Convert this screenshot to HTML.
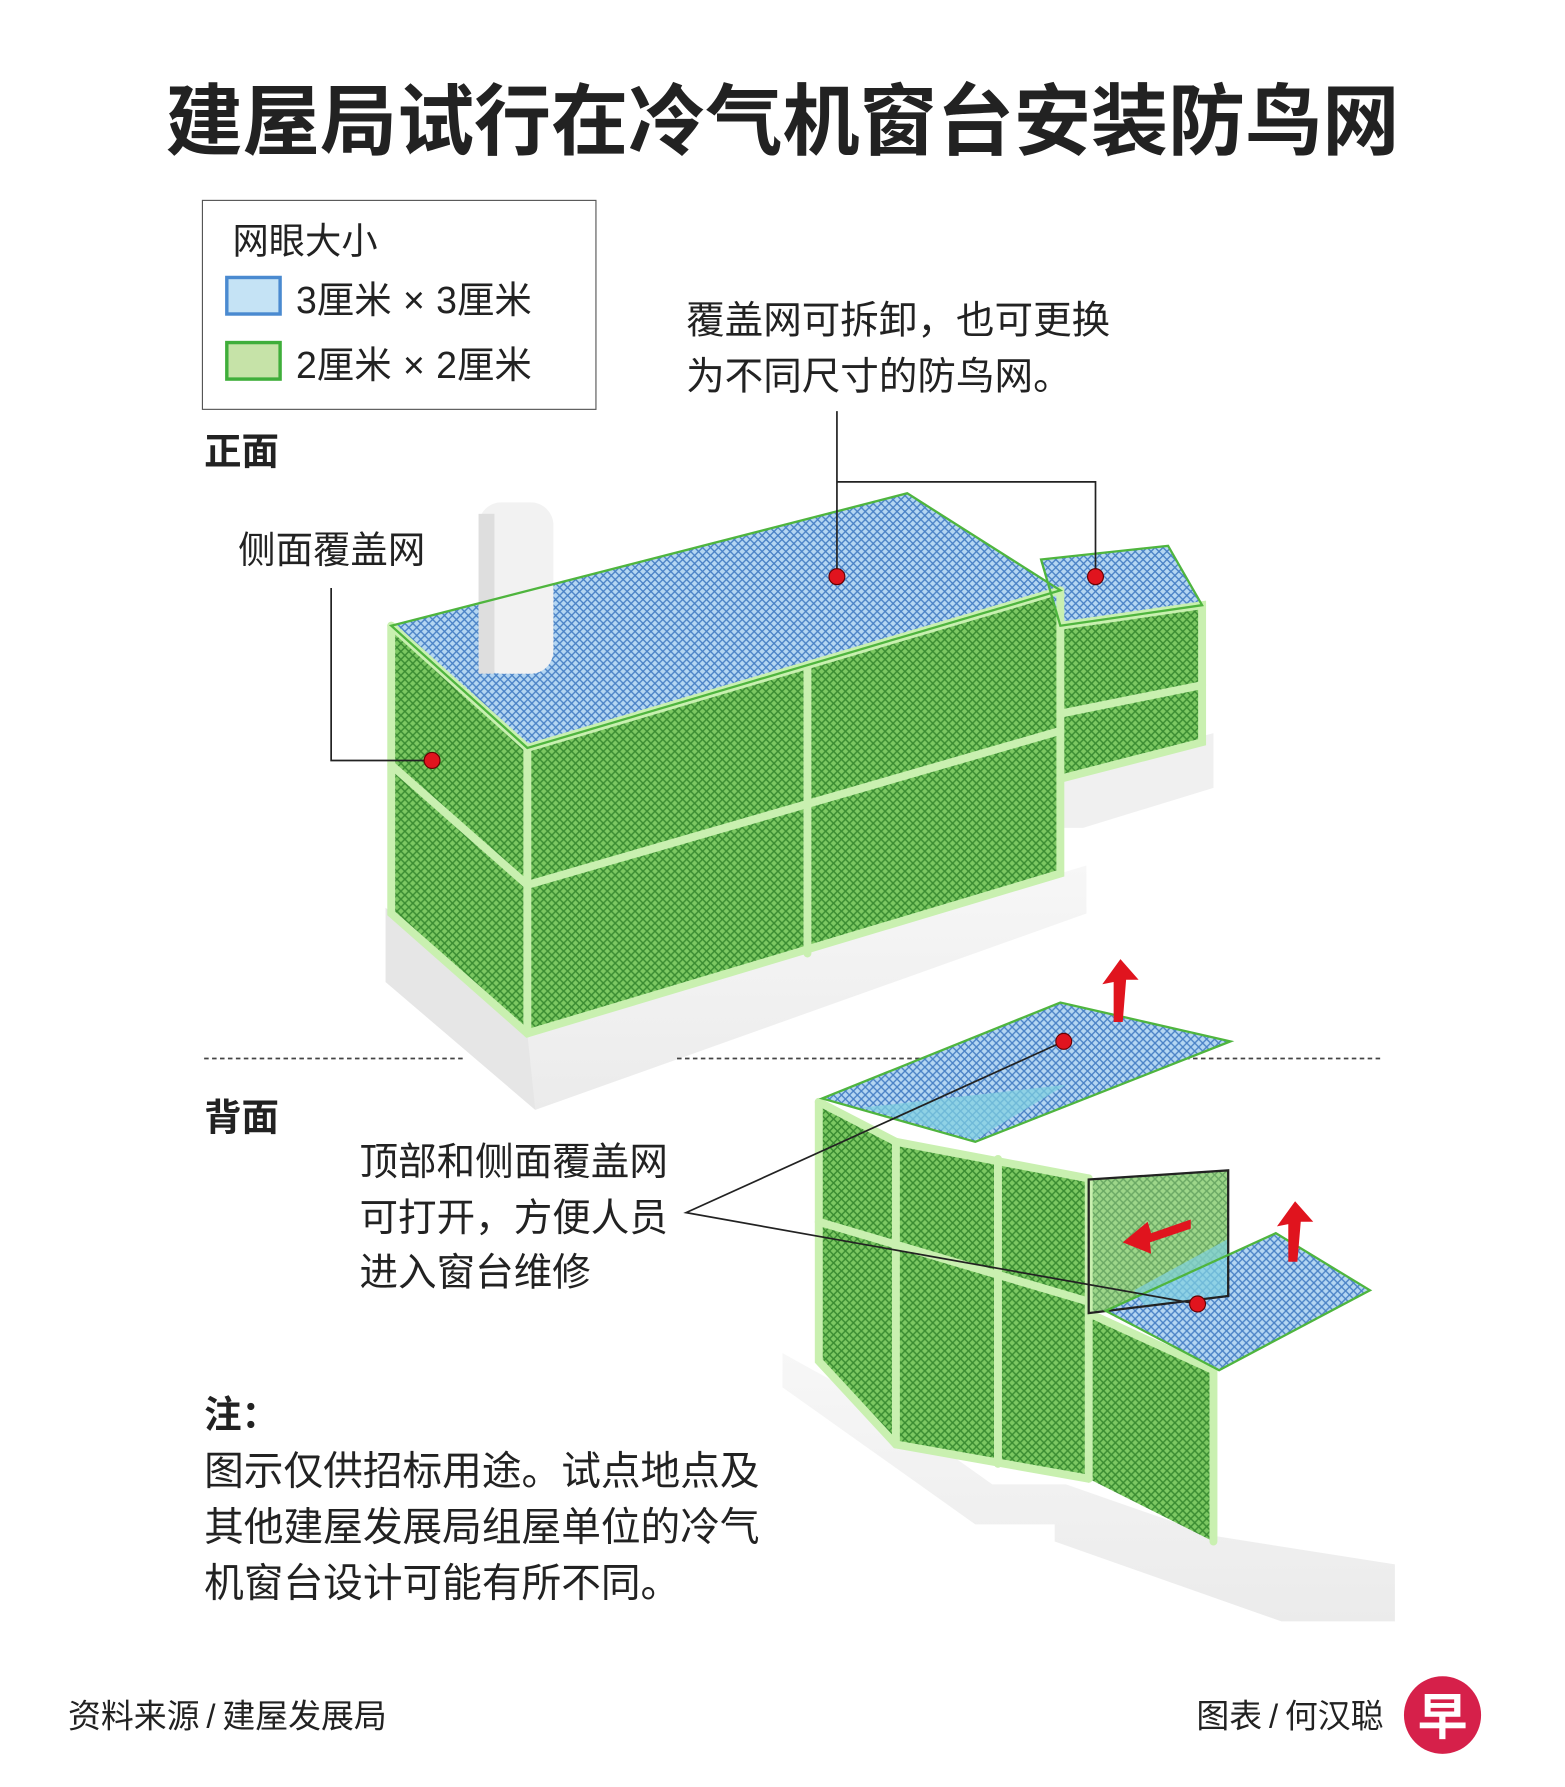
<!DOCTYPE html>
<html><head><meta charset="utf-8"><style>
html,body{margin:0;padding:0;background:#fff;}
svg{display:block;}
text{font-family:"Liberation Sans","Noto Sans CJK SC",sans-serif;fill:#222;}
</style></head><body>
<svg width="1565" height="1787" viewBox="0 0 1380 1565" preserveAspectRatio="none" xmlns="http://www.w3.org/2000/svg">
<defs>
<pattern id="g" width="7" height="7" patternUnits="userSpaceOnUse">
<rect width="7" height="7" fill="#7cc862"/>
<path d="M0 0L7 7M7 0L0 7" stroke="#3a8c32" stroke-width="1.3"/>
</pattern>
<pattern id="b" width="7" height="7" patternUnits="userSpaceOnUse">
<rect width="7" height="7" fill="#b4d6f2"/>
<path d="M0 0L7 7M7 0L0 7" stroke="#4a82c6" stroke-width="1.2"/>
</pattern>
<linearGradient id="slab" x1="0" y1="0" x2="0" y2="1"><stop offset="0" stop-color="#f7f7f7"/><stop offset="1" stop-color="#ebebeb"/></linearGradient>
</defs>

<text x="690" y="130" font-size="68" font-weight="bold" text-anchor="middle" fill="#1a1a1a">建屋局试行在冷气机窗台安装防鸟网</text>

<rect x="178.5" y="175.5" width="347" height="183" fill="none" stroke="#555" stroke-width="1"/>
<text x="205" y="222" font-size="32">网眼大小</text>
<rect x="200" y="243" width="47" height="32" fill="#c5e3f5" stroke="#4a8ad0" stroke-width="3"/>
<text x="261" y="274" font-size="33">3厘米<tspan dx="10">×</tspan><tspan dx="10">3厘米</tspan></text>
<rect x="200" y="300" width="47" height="32" fill="#c6e3a8" stroke="#3fae3a" stroke-width="3"/>
<text x="261" y="331" font-size="33">2厘米<tspan dx="10">×</tspan><tspan dx="10">2厘米</tspan></text>

<text x="180" y="407" font-size="33" font-weight="bold">正面</text>
<text x="605" y="292" font-size="34">覆盖网可拆卸，也可更换</text>
<text x="605" y="341" font-size="34">为不同尺寸的防鸟网。</text>
<text x="210" y="493" font-size="33">侧面覆盖网</text>

<polygon points="340,795 465,905 958,758 958,800 472,972 340,860" fill="url(#slab)"/>
<polygon points="340,795 465,905 472,972 340,860" fill="#e6e6e6"/>
<polygon points="930,680 1070,642 1070,690 955,725 935,725" fill="#f0f0f0"/>

<polygon points="345,548 465,655 465,905 345,800" fill="url(#g)"/>
<polygon points="465,655 935,517 935,765 465,905" fill="url(#g)"/>
<polygon points="345,548 800,432 935,517 465,655" fill="url(#b)"/>
<polygon points="918,490 1030,478 1060,530 935,548" fill="url(#b)"/>
<polygon points="935,548 1060,530 1060,650 935,682" fill="url(#g)"/>
<rect x="422" y="440" width="66" height="150" rx="20" fill="#f2f2f2"/>
<rect x="422" y="450" width="14" height="140" fill="#dedede"/>
<g stroke="#c9f0b0" stroke-width="7" fill="none" stroke-linecap="round">
<polyline points="345,548 465,655 935,517"/>
<polyline points="345,548 345,800 465,905 935,765 935,517"/>
<line x1="465" y1="655" x2="465" y2="905"/>
<line x1="712" y1="585" x2="712" y2="835"/>
<line x1="465" y1="775" x2="935" y2="640"/>
<line x1="345" y1="670" x2="465" y2="775"/>
<polyline points="935,548 1060,530 1060,650 935,682"/>
<line x1="935" y1="625" x2="1060" y2="600"/>
</g>
<g stroke="#4fb53e" stroke-width="2" fill="none">
<polygon points="345,548 800,432 935,517 465,655"/>
<polygon points="918,490 1030,478 1060,530 935,548"/>
</g>

<g stroke="#222" stroke-width="1.5" fill="none">
<line x1="738" y1="360" x2="738" y2="505"/>
<polyline points="738,422 966,422 966,505"/>
<polyline points="292,515 292,666 381,666"/>
</g>
<g fill="#e0141e" stroke="#600" stroke-width="1">
<circle cx="738" cy="505" r="7"/><circle cx="966" cy="505" r="7"/><circle cx="381" cy="666" r="7"/>
</g>

<g stroke="#444" stroke-width="1.5" stroke-dasharray="4,3">
<line x1="180" y1="927" x2="408" y2="927"/>
<line x1="597" y1="927" x2="1220" y2="927"/>
</g>

<text x="180" y="990" font-size="33" font-weight="bold">背面</text>
<text x="317" y="1029" font-size="34">顶部和侧面覆盖网</text>
<text x="317" y="1078" font-size="34">可打开，方便人员</text>
<text x="317" y="1126" font-size="34">进入窗台维修</text>

<polygon points="690,1185 790,1240 875,1300 940,1300 1070,1345 1230,1370 1230,1420 1130,1420 930,1350 930,1335 860,1335 690,1215" fill="url(#slab)"/>

<polygon points="722,965 790,1000 790,1265 722,1192" fill="url(#g)"/>
<polygon points="790,1000 960,1032 960,1295 790,1265" fill="url(#g)"/>
<polygon points="960,1150 1070,1200 1070,1350 960,1295" fill="url(#g)"/>
<polygon points="725,962 935,878 1085,912 860,1000" fill="url(#b)"/>
<polygon points="760,970 940,950 860,998" fill="#7fd0e0" opacity="0.7"/>
<polygon points="960,1033 1083,1025 1083,1135 960,1150" fill="url(#g)" opacity="0.75"/>
<polygon points="975,1148 1125,1080 1208,1130 1075,1200" fill="url(#b)"/>
<polygon points="1000,1130 1083,1085 1083,1135 1010,1145" fill="#7fd0e0" opacity="0.7"/>
<g stroke="#c9f0b0" stroke-width="7" fill="none" stroke-linecap="round">
<polyline points="722,965 790,1000 960,1032"/>
<polyline points="722,965 722,1192 790,1265 960,1295"/>
<line x1="790" y1="1000" x2="790" y2="1265"/>
<line x1="880" y1="1015" x2="880" y2="1282"/>
<line x1="960" y1="1032" x2="960" y2="1295"/>
<line x1="722" y1="1070" x2="960" y2="1140"/>
<line x1="960" y1="1150" x2="1070" y2="1200"/>
<line x1="1070" y1="1200" x2="1070" y2="1350"/>
</g>
<polygon points="960,1033 1083,1025 1083,1135 960,1150" fill="none" stroke="#222" stroke-width="2"/>
<g stroke="#4fb53e" stroke-width="2" fill="none">
<polygon points="725,962 935,878 1085,912 860,1000"/>
<polygon points="975,1148 1125,1080 1208,1130 1075,1200"/>
</g>

<g fill="#e0141e">
<path d="M982 895 L982 860 L972 862 L988 840 L1004 858 L993 858 L990 895Z"/>
<path d="M1136 1105 L1136 1072 L1126 1074 L1142 1052 L1158 1070 L1147 1070 L1144 1105Z"/>
<path d="M1050 1068 L1015 1080 L1012 1070 L990 1088 L1015 1098 L1014 1088 L1050 1076Z"/>
</g>

<g stroke="#222" stroke-width="1.5" fill="none">
<polyline points="938,912 605,1062 1056,1142"/>
</g>
<g fill="#e0141e" stroke="#600" stroke-width="1">
<circle cx="938" cy="912" r="7"/><circle cx="1056" cy="1142" r="7"/>
</g>

<text x="180" y="1250" font-size="33" font-weight="bold">注：</text>
<text x="180" y="1300" font-size="35">图示仅供招标用途。试点地点及</text>
<text x="180" y="1349" font-size="35">其他建屋发展局组屋单位的冷气</text>
<text x="180" y="1398" font-size="35">机窗台设计可能有所不同。</text>

<text x="60" y="1513" font-size="29">资料来源<tspan dx="6">/</tspan><tspan dx="6">建屋发展局</tspan></text>
<text x="1220" y="1513" font-size="29" text-anchor="end">图表<tspan dx="6">/</tspan><tspan dx="6">何汉聪</tspan></text>
<circle cx="1272" cy="1502" r="34" fill="#d6204a"/>
<text x="1272" y="1519" font-size="44" font-weight="bold" text-anchor="middle" style="fill:#fff">早</text>
</svg>
</body></html>
